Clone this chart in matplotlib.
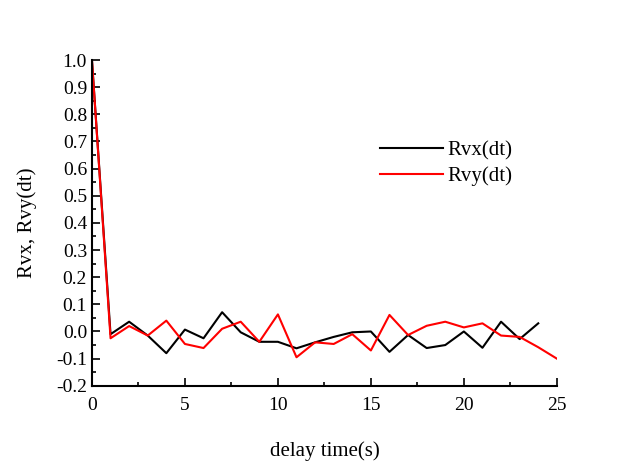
import matplotlib.pyplot as plt
from matplotlib.ticker import MultipleLocator

# delay time (s)
t = list(range(26))

rvx = [1.0, -0.01, 0.036, -0.015, -0.08, 0.007, -0.025, 0.071, -0.003, -0.038,
       -0.038, -0.062, -0.04, -0.02, -0.003, 0.0, -0.075, -0.013, -0.061, -0.05,
       0.0, -0.06, 0.036, -0.028, 0.03]
rvy = [1.0, -0.025, 0.02, -0.015, 0.04, -0.046, -0.061, 0.01, 0.036, -0.038,
       0.063, -0.095, -0.04, -0.046, -0.01, -0.07, 0.061, -0.013, 0.021, 0.036,
       0.015, 0.03, -0.015, -0.02, -0.058, -0.1]

plt.rcParams['font.family'] = ['Liberation Serif', 'DejaVu Serif']

fig = plt.figure(figsize=(6.43, 4.62), dpi=100)
ax = fig.add_axes([0.143, 0.165, 0.723, 0.705])

# correlation curves
ax.plot(t[:len(rvx)], rvx, color='black', lw=1.5, label='Rvx(dt)')
ax.plot(t, rvy, color='red', lw=1.5, label='Rvy(dt)')

ax.set_xlim(0, 25)
ax.set_ylim(-0.2, 1.0)
ax.xaxis.set_major_locator(MultipleLocator(5))
ax.xaxis.set_minor_locator(MultipleLocator(2.5))
ax.yaxis.set_major_locator(MultipleLocator(0.1))
ax.yaxis.set_minor_locator(MultipleLocator(0.05))
ax.tick_params(which='both', direction='in', labelsize=14, width=1.2)
ax.tick_params(which='major', length=6)
ax.tick_params(which='minor', length=3)
ax.tick_params(axis='x', pad=8)
ax.yaxis.set_major_formatter(plt.FormatStrFormatter('%.1f'))

for s in ['top', 'right']:
    ax.spines[s].set_visible(False)
for s in ['left', 'bottom']:
    ax.spines[s].set_linewidth(1.5)

ax.set_xlabel('delay time(s)', fontsize=15, labelpad=20)
ax.set_ylabel('Rvx, Rvy(dt)', fontsize=15, labelpad=14)

ax.legend(loc='upper left', bbox_to_anchor=(0.58, 0.81), frameon=False,
          fontsize=15, handlelength=3, handletextpad=0.2, labelspacing=0.3)

plt.savefig('out.png')
